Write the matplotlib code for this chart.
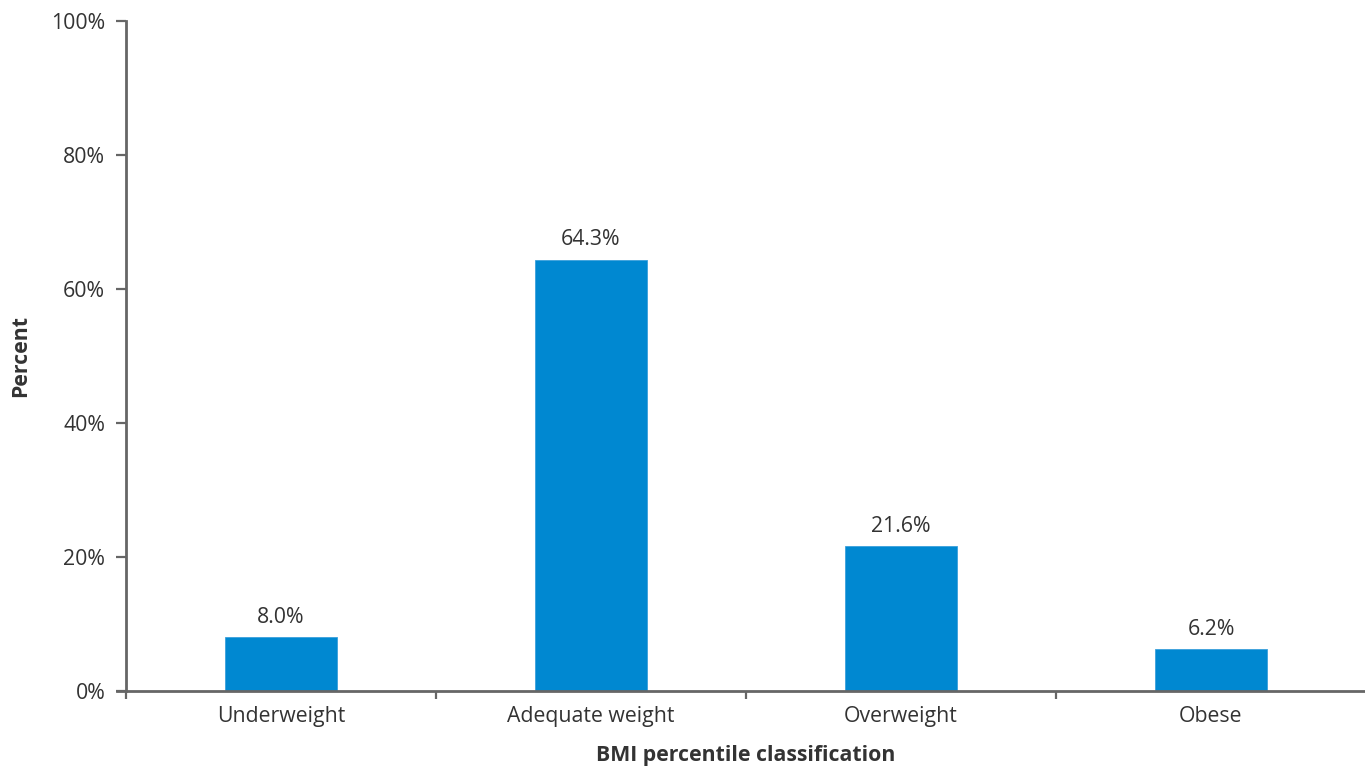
import numpy as np
import matplotlib.pyplot as plt
from matplotlib.ticker import FixedLocator, PercentFormatter

categories = ['Underweight', 'Adequate weight', 'Overweight', 'Obese']
percent = [8.0, 64.3, 21.6, 6.2]
labels = ['8.0%', '64.3%', '21.6%', '6.2%']

plt.rcParams['font.family'] = ['Open Sans', 'DejaVu Sans']
txt = '#333333'
axc = '#666666'
fs = 15.3

fig = plt.figure(figsize=(13.65, 7.67), dpi=100)
ax = fig.add_axes([0.0923, 0.0991, 0.9084, 0.8735])

x = np.arange(len(categories))
bars = ax.bar(x, percent, width=0.36, color='#0088D1', edgecolor='#3aa0dc', linewidth=0.6, zorder=2)
for b, s in zip(bars, labels):
    ax.annotate(s, (b.get_x() + b.get_width() / 2, b.get_height()), xytext=(0, 7),
                textcoords='offset points', ha='center', va='bottom', fontsize=fs, color=txt)

ax.set_xlim(-0.5, 3.5)
ax.set_ylim(0, 100)
ax.set_yticks([0, 20, 40, 60, 80, 100])
ax.yaxis.set_major_formatter(PercentFormatter(decimals=0))
ax.set_xticks(x)
ax.set_xticklabels(categories)
ax.xaxis.set_minor_locator(FixedLocator([-0.5, 0.5, 1.5, 2.5]))

for s in ['top', 'right']:
    ax.spines[s].set_visible(False)
for s in ['left', 'bottom']:
    ax.spines[s].set_color(axc)
    ax.spines[s].set_linewidth(2)
ax.spines['bottom'].set_bounds(-0.53, 3.5)
ax.spines['bottom'].set_zorder(3)

ax.tick_params(axis='y', length=7, width=1.6, color=axc, labelsize=fs, labelcolor=txt, pad=8)
ax.tick_params(axis='x', which='major', length=0, labelsize=fs, labelcolor=txt, pad=11)
ax.tick_params(axis='x', which='minor', length=6, width=1.6, color=axc)

ax.set_xlabel('BMI percentile classification', fontsize=fs, fontweight='bold', color=txt, labelpad=13)
ax.set_ylabel('Percent', fontsize=fs, fontweight='bold', color=txt, labelpad=14)

fig.savefig('out.png', dpi=100)
